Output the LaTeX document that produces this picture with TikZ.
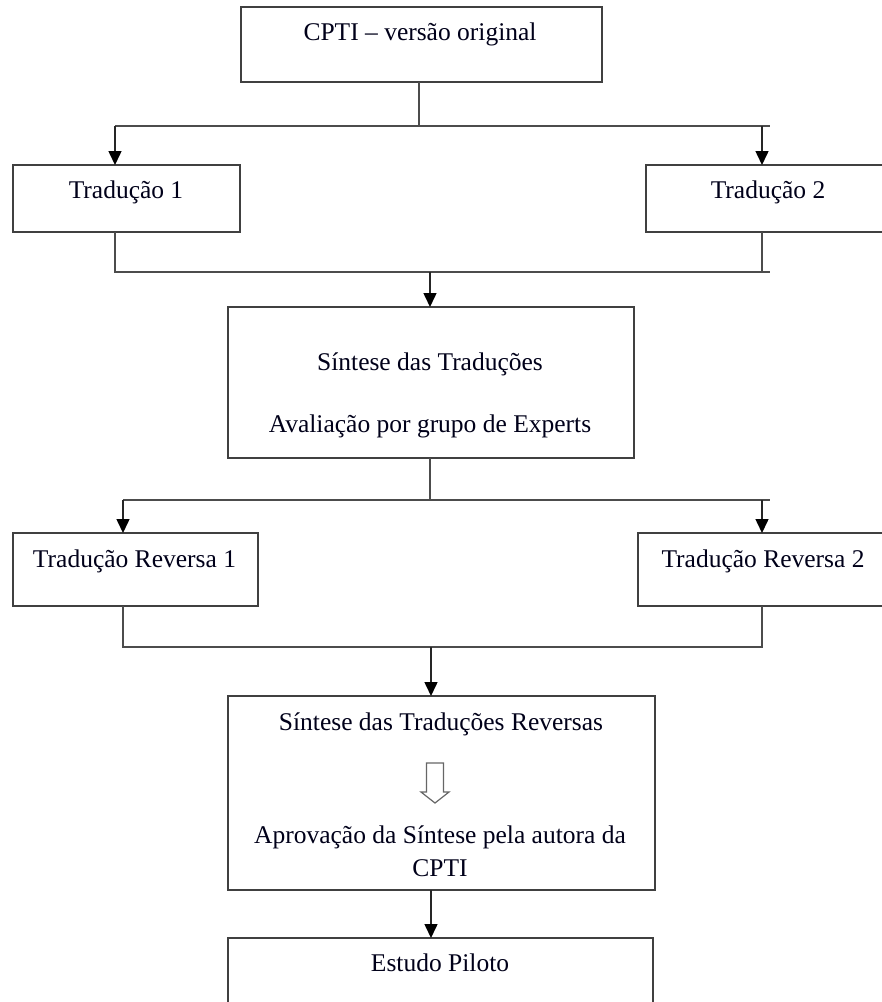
\documentclass[tikz,border=0pt]{standalone}
\usepackage{fontspec}
\setmainfont{Liberation Serif}
\usetikzlibrary{arrows.meta}
\begin{document}
\begin{tikzpicture}[x=0.5pt,y=-0.5pt,
  box/.style={draw=black!75, line width=0.75pt, inner sep=0pt, outer sep=0pt},
  lbl/.style={anchor=base, inner sep=0pt, font=\fontsize{12.75}{15}\selectfont, text=black!90!blue},
  ln/.style={draw=black!70, line width=0.75pt},
  arr/.style={draw=black!85, line width=0.75pt, -{Triangle[width=6.5pt,length=7pt,color=black]}}]
\useasboundingbox (0,0) rectangle (882,1002);
\begin{scope}
\clip (0,0) rectangle (882,1002);
% boxes
\node[box, minimum width=180.5pt, minimum height=37.5pt] (cpti) at (421.5,44.5) {};
\node[box, minimum width=113.5pt, minimum height=33.5pt] (t1) at (126.5,198.5) {};
\node[box, minimum width=122pt, minimum height=33.5pt] (t2) at (768,198.5) {};
\node[box, minimum width=203pt, minimum height=75.5pt] (sint) at (431,382.5) {};
\node[box, minimum width=122.5pt, minimum height=36.5pt] (tr1) at (135.5,569.5) {};
\node[box, minimum width=125pt, minimum height=36.5pt] (tr2) at (763,569.5) {};
\node[box, minimum width=213.5pt, minimum height=97pt] (sintr) at (441.5,793) {};
\node[box, minimum width=212.5pt, minimum height=37pt] (piloto) at (440.5,975) {};
% texts
\node[lbl] (cptiT) at (420,40) {CPTI -- versão original};
\node[lbl] (t1T) at (126,198) {Tradução 1};
\node[lbl] (t2T) at (768,198) {Tradução 2};
\node[lbl] (sintA) at (430,370) {Síntese das Traduções};
\node[lbl] (sintB) at (430,432) {Avaliação por grupo de Experts};
\node[lbl] (tr1T) at (134.5,567) {Tradução Reversa 1};
\node[lbl] (tr2T) at (763,567) {Tradução Reversa 2};
\node[lbl] (sintrA) at (441,730) {Síntese das Traduções Reversas};
\node[lbl] (sintrB) at (440,843) {Aprovação da Síntese pela autora da};
\node[lbl] (sintrC) at (440,876) {CPTI};
\node[lbl] (pilotoT) at (440,971) {Estudo Piloto};
% open arrow inside sintr
\draw[draw=black!60, line width=0.6pt, fill=white]
  (426.5,763) -- (443.5,763) -- (443.5,792) -- (449,792) -- (435,803)
  -- (421,792) -- (426.5,792) -- cycle;
% junction coordinates
\coordinate (j1) at (419,126);
\coordinate (h1l) at (115,126);
\coordinate (h1r) at (770,126);
\coordinate (a2) at (762,126);
\coordinate (j2l) at (115,272);
\coordinate (j2r) at (762,272);
\coordinate (h2r) at (770,272);
\coordinate (j2m) at (430,272);
\coordinate (j3) at (430,500);
\coordinate (h3l) at (123,500);
\coordinate (h3r) at (770,500);
\coordinate (a4) at (762,500);
\coordinate (j4l) at (123,647);
\coordinate (j4r) at (762,647);
\coordinate (j4m) at (431,647);
% connectors
\draw[ln] (cpti.south -| j1) -- (j1);
\draw[ln] (h1l) -- (h1r);
\draw[arr] (h1l) -- (t1.north -| h1l);
\draw[arr] (a2) -- (t2.north -| a2);
\draw[ln] (t1.south -| j2l) -- (j2l) -- (h2r);
\draw[ln] (t2.south -| j2r) -- (j2r);
\draw[arr] (j2m) -- (sint.north -| j2m);
\draw[ln] (sint.south -| j3) -- (j3);
\draw[ln] (h3l) -- (h3r);
\draw[arr] (h3l) -- (tr1.north -| h3l);
\draw[arr] (a4) -- (tr2.north -| a4);
\draw[ln] (tr1.south -| j4l) -- (j4l) -- (j4r) -- (tr2.south -| j4r);
\draw[arr] (j4m) -- (sintr.north -| j4m);
\draw[arr] (sintr.south -| j4m) -- (piloto.north -| j4m);
\end{scope}
\end{tikzpicture}
\end{document}
